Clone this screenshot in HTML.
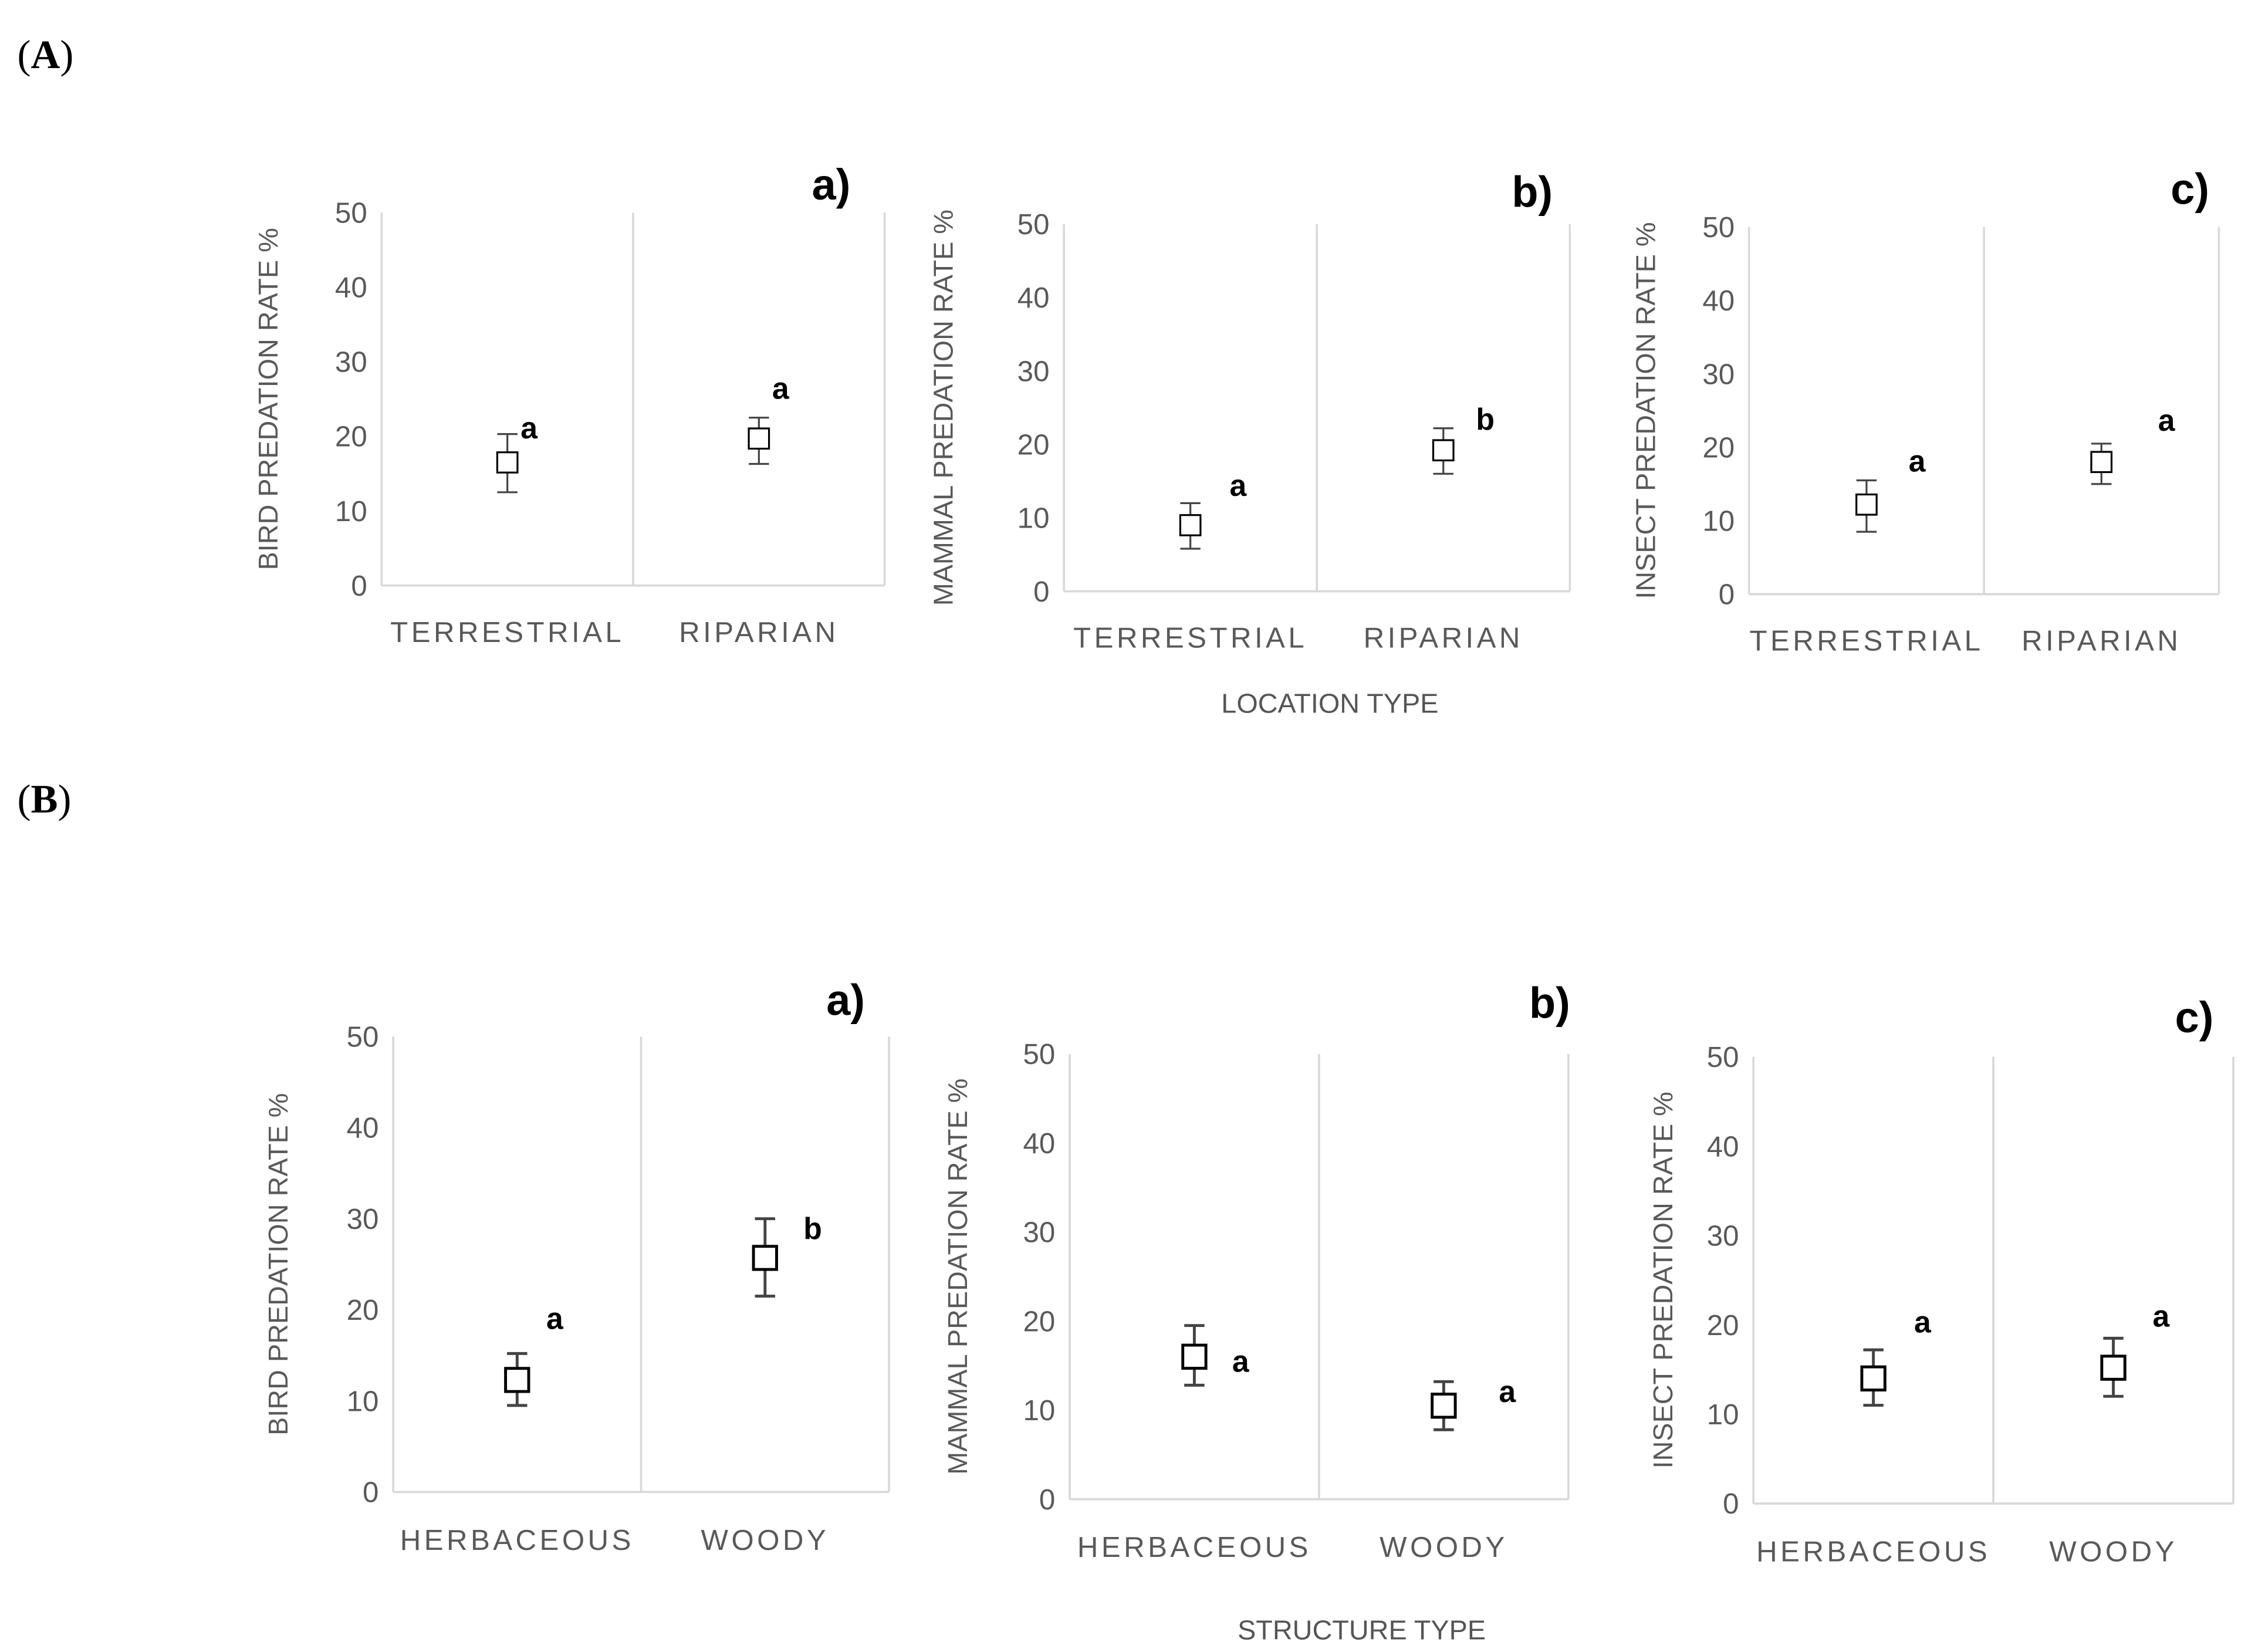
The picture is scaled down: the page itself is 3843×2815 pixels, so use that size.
<!DOCTYPE html>
<html><head><meta charset="utf-8"><style>html,body{margin:0;padding:0;background:#fff}svg{display:block}</style></head>
<body>
<svg width="3843" height="2815" viewBox="0 0 1560 1142.7" preserveAspectRatio="none" xmlns="http://www.w3.org/2000/svg" id="fig">
<text x="12" y="47" font-family="Liberation Serif, serif" font-size="28">(<tspan font-weight="bold">A</tspan>)</text>
<text x="12" y="562" font-family="Liberation Serif, serif" font-size="28">(<tspan font-weight="bold">B</tspan>)</text>
<text x="920" y="493" text-anchor="middle" font-family="Liberation Sans, sans-serif" font-size="19" fill="#555">LOCATION TYPE</text>
<text x="942" y="1134" text-anchor="middle" font-family="Liberation Sans, sans-serif" font-size="19" fill="#555">STRUCTURE TYPE</text>
</svg>
<script>
const catsLoc = ['TERRESTRIAL','RIPARIAN'];
const catsStr = ['HERBACEOUS','WOODY'];
const yTicks = [0,10,20,30,40,50];
const birdLoc = [16.5,19.7]; const birdLocLo=[12.5,16.3]; const birdLocHi=[20.3,22.5]; const birdLocLet=['a','a'];
const mamLoc = [9,19.2]; const mamLocLo=[5.8,16]; const mamLocHi=[12,22.2]; const mamLocLet=['a','b'];
const insLoc = [12.2,18]; const insLocLo=[8.5,15]; const insLocHi=[15.5,20.5]; const insLocLet=['a','a'];
const birdStr = [12.3,25.7]; const birdStrLo=[9.5,21.5]; const birdStrHi=[15.2,30]; const birdStrLet=['a','b'];
const mamStr = [16,10.5]; const mamStrLo=[12.8,7.8]; const mamStrHi=[19.5,13.2]; const mamStrLet=['a','a'];
const insStr = [14,15.2]; const insStrLo=[11,12]; const insStrHi=[17.2,18.5]; const insStrLet=['a','a'];

const NS='http://www.w3.org/2000/svg';
const svg=document.getElementById('fig');
function mk(tag,attrs,parent){const e=document.createElementNS(NS,tag);for(const k in attrs)e.setAttribute(k,attrs[k]);(parent||svg).appendChild(e);return e;}
function panel(p){
  const g=mk('g',{});
  
  
  const y=v=>p.y0+(p.y50-p.y0)*v/50;
  const xc=i=>p.x0+(p.x1-p.x0)*(i+0.5)/2;
  const ax=mk('line',{x1:p.x0,x2:p.x1,y1:p.y0,y2:p.y0,stroke:'#d9d9d9','stroke-width':1.5},g);
  
  
  [p.x0,(p.x0+p.x1)/2,p.x1].forEach(x=>{const l=mk('line',{x1:x,x2:x,y1:p.y50,y2:p.y0,stroke:'#d9d9d9','stroke-width':1.5},g);
    
    });
  yTicks.forEach(t=>{const e=mk('text',{x:p.x0-10,y:y(t)+7,'text-anchor':'end','font-family':'Liberation Sans, sans-serif','font-size':20,fill:'#595959'},g);e.textContent=t;
    
    });
  const yt=mk('text',{transform:`translate(${p.yt},${(p.y0+p.y50)/2}) rotate(-90)`,'text-anchor':'middle','font-family':'Liberation Sans, sans-serif','font-size':19,fill:'#595959'},g);
  yt.textContent=p.ytitle;
  
  
  p.cats.forEach((c,i)=>{const e=mk('text',{x:xc(i),y:p.ly+7,'text-anchor':'middle','font-family':'Liberation Sans, sans-serif','font-size':20,'letter-spacing':2.2,fill:'#595959'},g);e.textContent=c;
    
    });
  const pl=mk('text',{x:p.px,y:p.py+11,'text-anchor':'middle','font-family':'Liberation Sans, sans-serif','font-size':30,'font-weight':'bold',fill:'#000'},g);
  pl.textContent=p.plabel;
  
  
  const s=p.ms, sw=p.sw;
  p.vals.forEach((v,i)=>{const x=xc(i);
    const eb=mk('path',{d:`M${x},${y(p.lo[i])}V${y(p.hi[i])}M${x-7},${y(p.lo[i])}H${x+7}M${x-7},${y(p.hi[i])}H${x+7}`,stroke:'#444','stroke-width':sw,fill:'none'},g);
    
    
    const r=mk('rect',{x:x-s/2,y:y(v)-s/2,width:s,height:s,fill:'#fff',stroke:'#000','stroke-width':sw},g);
    
    
    const lt=mk('text',{x:x+p.lx[i],y:y(p.hi[i])+p.ldy[i],'text-anchor':'middle','font-family':'Liberation Sans, sans-serif','font-size':21,'font-weight':'bold',fill:'#000'},g);
    lt.textContent=p.lets[i];
    
    
  });
}
panel({name:'panel-a-bird-location',x0:264,x1:612,y0:405,y50:147,yt:192,ly:437,px:575,py:127,plabel:'a)',ytitle:'BIRD PREDATION RATE %',cats:catsLoc,vals:birdLoc,lo:birdLocLo,hi:birdLocHi,lets:birdLocLet,lx:[15,15],ldy:[3,-13],ms:14,sw:1.3});
panel({name:'panel-b-mammal-location',x0:736,x1:1086,y0:409,y50:155,yt:659,ly:441,px:1060,py:132,plabel:'b)',ytitle:'MAMMAL PREDATION RATE %',cats:catsLoc,vals:mamLoc,lo:mamLocLo,hi:mamLocHi,lets:mamLocLet,lx:[33,29],ldy:[-5,1],ms:14,sw:1.3});
panel({name:'panel-c-insect-location',x0:1210,x1:1535,y0:411,y50:157,yt:1145,ly:443,px:1515,py:130,plabel:'c)',ytitle:'INSECT PREDATION RATE %',cats:catsLoc,vals:insLoc,lo:insLocLo,hi:insLocHi,lets:insLocLet,lx:[35,45],ldy:[-6,-9],ms:14,sw:1.3});
panel({name:'panel-a-bird-structure',x0:272,x1:615,y0:1032,y50:717,yt:199,ly:1065,px:585,py:691,plabel:'a)',ytitle:'BIRD PREDATION RATE %',cats:catsStr,vals:birdStr,lo:birdStrLo,hi:birdStrHi,lets:birdStrLet,lx:[26,33],ldy:[-17,14],ms:16,sw:2});
panel({name:'panel-b-mammal-structure',x0:740,x1:1085,y0:1037,y50:729,yt:669,ly:1070,px:1072,py:693,plabel:'b)',ytitle:'MAMMAL PREDATION RATE %',cats:catsStr,vals:mamStr,lo:mamStrLo,hi:mamStrHi,lets:mamStrLet,lx:[32,44],ldy:[32,14],ms:16,sw:2});
panel({name:'panel-c-insect-structure',x0:1213,x1:1545,y0:1040,y50:731,yt:1157,ly:1073,px:1518,py:703,plabel:'c)',ytitle:'INSECT PREDATION RATE %',cats:catsStr,vals:insStr,lo:insStrLo,hi:insStrHi,lets:insStrLet,lx:[34,33],ldy:[-12,-8],ms:16,sw:2});
</script>
</body></html>
